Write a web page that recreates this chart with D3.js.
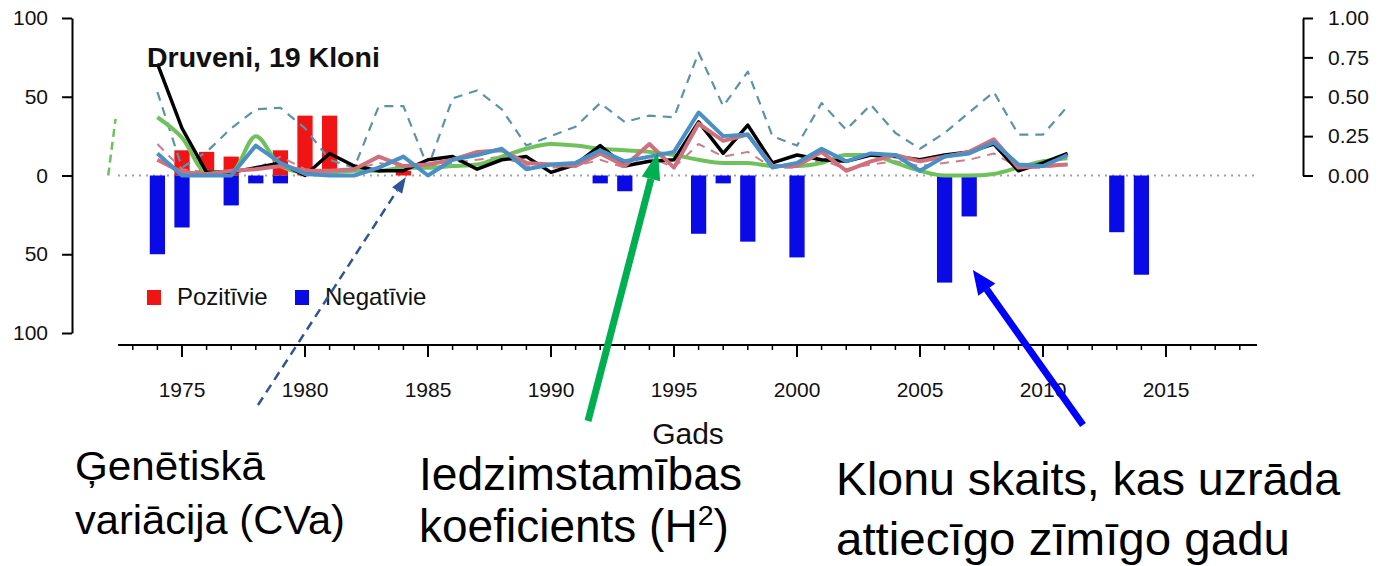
<!DOCTYPE html>
<html>
<head>
<meta charset="utf-8">
<script src="https://cdn.jsdelivr.net/npm/d3@7"></script>
<style>
  body { margin: 0; background: #fff; }
  svg { display: block; font-family: "Liberation Sans", Arial, sans-serif; }
</style>
</head>
<body>
<div id="chart"></div>
<script>
// values
const lineYears = [1974,1975,1976,1977,1978,1979,1980,1981,1982,1983,1984,1985,1986,1987,1988,1989,1990,1991,1992,
  1993,1994,1995,1996,1997,1998,1999,2000,2001,2002,2003,2004,2005,2006,2007,2008,2009,2010,2011];

const blackLine = [.71,.30,.02,.02,.05,.08,.00,.14,.06,.03,.03,.10,.12,.04,.10,.12,.02,.07,.19,
  .06,.09,.10,.34,.14,.32,.08,.13,.10,.09,.13,.12,.10,.13,.15,.20,.03,.08,.14];
const roseLine = [.10,.02,.01,.03,.04,.06,.03,.03,.04,.12,.06,.07,.10,.15,.16,.08,.07,.06,.14,
  .06,.20,.05,.33,.22,.26,.06,.06,.15,.03,.09,.13,.09,.12,.15,.23,.05,.06,.07];
const blueLine = [.14,.00,.00,.00,.19,.08,.01,.00,.00,.05,.12,.00,.10,.13,.17,.04,.07,.08,.16,
  .09,.12,.15,.40,.25,.26,.05,.08,.17,.09,.14,.13,.03,.12,.14,.21,.07,.06,.13];
const greenLine = [.37,.24,.02,.02,.25,.06,.02,.02,.03,.03,.05,.05,.06,.07,.12,.17,.20,.19,.17,
  .16,.15,.13,.10,.08,.08,.06,.06,.08,.13,.13,.08,.03,.00,.00,.01,.05,.09,.11];
const tealDash = [.53,.05,.15,.30,.42,.43,.30,.10,.05,.44,.44,.05,.49,.54,.42,.19,.25,.31,.46,
  .34,.38,.37,.78,.44,.66,.25,.19,.46,.29,.45,.27,.17,.27,.40,.53,.26,.26,.44];
const pinkDash = [.20,.04,.02,.03,.04,.12,.04,.03,.04,.08,.05,.06,.08,.10,.12,.06,.05,.06,.10,
  .05,.12,.05,.20,.12,.15,.05,.05,.10,.04,.07,.09,.06,.08,.10,.14,.05,.05,.07];
const greenDashYears = [1972.0, 1972.3];
const greenDashVals = [0, .36];

const posYears = [1975,1976,1977,1979,1980,1981,1984];
const posCounts = [16,15,12,16,38,38,3];
const negYears = [1974,1975,1977,1978,1979,1992,1993,1996,1997,1998,2000,2006,2007,2013,2014];
const negCounts = [-50,-33,-19,-5,-5,-5,-10,-37,-5,-42,-52,-68,-26,-36,-63];

const leftTicks = [-100,-50,0,50,100];
const rightTicks = [0,0.25,0.5,0.75,1];
const majorYears = [1975,1980,1985,1990,1995,2000,2005,2010,2015];
const minorYears = d3.range(1973, 2019);

const width = 1388, height = 566;

const svg = d3.select("#chart")
  .append("svg")
    .attr("width", width)
    .attr("height", height);

svg.append("rect").attr("width", width).attr("height", height).attr("fill", "#fff");

// scales
const x = d3.scaleLinear().domain([1975, 2015]).range([182, 1166]);
const yL = d3.scaleLinear().domain([-100, 100]).range([333, 18]);
const yR = d3.scaleLinear().domain([0, 1]).range([175.5, 18]);
const bw = (x(1976) - x(1975)) * 0.62;

// zero reference line
svg.append("line")
  .attr("x1", x(1972.4)).attr("x2", x(2018.7))
  .attr("y1", yL(0)).attr("y2", yL(0))
  .attr("stroke", "#a0a0a0").attr("stroke-width", 2)
  .attr("stroke-dasharray", "2,5");

// bars
svg.selectAll(".pos")
  .data(posYears)
  .join("rect")
    .attr("class", "pos")
    .attr("x", d => x(d) - bw / 2)
    .attr("width", bw)
    .attr("y", (d, i) => yL(posCounts[i]))
    .attr("height", (d, i) => yL(0) - yL(posCounts[i]))
    .attr("fill", "#f01414");

svg.selectAll(".neg")
  .data(negYears)
  .join("rect")
    .attr("class", "neg")
    .attr("x", d => x(d) - bw / 2)
    .attr("width", bw)
    .attr("y", yL(0))
    .attr("height", (d, i) => yL(negCounts[i]) - yL(0))
    .attr("fill", "#0a0ae6");

// lines
const line = d3.line()
  .x((d, i) => x(lineYears[i]))
  .y(d => yR(d));

const series = [
  {vals: tealDash, color: "#5a93aa", w: 2.2, dash: "9,7", curve: d3.curveLinear},
  {vals: pinkDash, color: "#cc7d8c", w: 2, dash: "9,7", curve: d3.curveLinear},
  {vals: greenLine, color: "#6fc15c", w: 4, dash: null, curve: d3.curveMonotoneX},
  {vals: blackLine, color: "#000000", w: 3.5, dash: null, curve: d3.curveLinear},
  {vals: roseLine, color: "#d0707c", w: 4, dash: null, curve: d3.curveLinear},
  {vals: blueLine, color: "#4a90c6", w: 4, dash: null, curve: d3.curveLinear}
];

svg.selectAll(".series")
  .data(series)
  .join("path")
    .attr("class", "series")
    .attr("fill", "none")
    .attr("stroke", d => d.color)
    .attr("stroke-width", d => d.w)
    .attr("stroke-linejoin", "round")
    .attr("stroke-dasharray", d => d.dash)
    .attr("d", d => line.curve(d.curve)(d.vals));

svg.append("path")
  .attr("fill", "none")
  .attr("stroke", "#6fc15c")
  .attr("stroke-width", 2.5)
  .attr("stroke-dasharray", "8,5")
  .attr("d", d3.line().x((d, i) => x(greenDashYears[i])).y(d => yR(d))(greenDashVals));

// axes
const leftAxis = svg.append("g")
  .attr("transform", "translate(72,0)")
  .call(d3.axisLeft(yL).tickValues(leftTicks).tickFormat(d => Math.abs(d))
    .tickSize(10).tickSizeOuter(0).tickPadding(14));

const rightAxis = svg.append("g")
  .attr("transform", "translate(1303,0)")
  .call(d3.axisRight(yR).tickValues(rightTicks).tickFormat(d3.format(".2f"))
    .tickSize(10).tickSizeOuter(0).tickPadding(15));

const xAxis = svg.append("g").attr("transform", "translate(0,345)");
xAxis.append("line")
  .attr("x1", x(1972.4)).attr("x2", x(2018.7))
  .attr("stroke", "#000").attr("stroke-width", 2);
xAxis.selectAll(".minor")
  .data(minorYears)
  .join("line")
    .attr("class", "minor")
    .attr("x1", d => x(d)).attr("x2", d => x(d))
    .attr("y2", 5)
    .attr("stroke", "#000").attr("stroke-width", 1.5);
xAxis.selectAll(".major")
  .data(majorYears)
  .join("line")
    .attr("class", "major")
    .attr("x1", d => x(d)).attr("x2", d => x(d))
    .attr("y2", 12)
    .attr("stroke", "#000").attr("stroke-width", 2);
xAxis.selectAll(".lab")
  .data(majorYears)
  .join("text")
    .attr("class", "lab")
    .attr("x", d => x(d))
    .attr("y", 52)
    .attr("text-anchor", "middle")
    .attr("font-size", 21)
    .attr("fill", "#111")
    .text(d => d);

[leftAxis, rightAxis].forEach(g => {
  g.selectAll("path, line").attr("stroke", "#000").attr("stroke-width", 2);
  g.selectAll("text").attr("font-size", 21).attr("fill", "#111")
    .attr("font-family", "Liberation Sans, Arial, sans-serif");
});

svg.append("text")
  .attr("x", 688).attr("y", 444)
  .attr("text-anchor", "middle")
  .attr("font-size", 30)
  .attr("fill", "#111")
  .text("Gads");

// title
svg.append("text")
  .attr("x", 147).attr("y", 67)
  .attr("font-size", 28.5)
  .attr("font-weight", "bold")
  .attr("fill", "#111")
  .text("Druveni, 19 Kloni");

// legend
const legend = [
  {label: "Pozitīvie", color: "#f01414", x: 147},
  {label: "Negatīvie", color: "#0a0ae6", x: 295}
];
const lg = svg.selectAll(".legend")
  .data(legend)
  .join("g")
    .attr("class", "legend")
    .attr("transform", d => `translate(${d.x},290)`);
lg.append("rect").attr("width", 14).attr("height", 15).attr("fill", d => d.color);
lg.append("text")
  .attr("x", 30).attr("y", 15)
  .attr("font-size", 24)
  .attr("fill", "#111")
  .text(d => d.label);

// annotation arrows
function arrow(x1, y1, x2, y2, color, w, headLen, headW, dash) {
  const a = Math.atan2(y2 - y1, x2 - x1);
  const bx = x2 - headLen * Math.cos(a), by = y2 - headLen * Math.sin(a);
  svg.append("line")
    .attr("x1", x1).attr("y1", y1).attr("x2", bx).attr("y2", by)
    .attr("stroke", color).attr("stroke-width", w)
    .attr("stroke-dasharray", dash);
  const px = -Math.sin(a) * headW / 2, py = Math.cos(a) * headW / 2;
  svg.append("polygon")
    .attr("points", `${x2},${y2} ${bx + px},${by + py} ${bx - px},${by - py}`)
    .attr("fill", color);
}

arrow(258, 405, x(1984.1), yL(-1), "#2f5597", 2.5, 16, 12, "9,6");
arrow(588, 421, x(1994.35), yR(0.15), "#00b050", 7, 28, 19, null);
arrow(1083, 425, x(2007.15), yL(-60), "#0000ff", 7, 24, 21, null);

// notes under the chart
const notes = [
  {x: 75, y: 480, size: 41, lines: ["Ģenētiskā", "variācija (CVa)"], lens: [190, 270], gap: 54},
  {x: 419, y: 490, size: 46, lines: ["Iedzimstamības", "koeficients (H"], lens: [323, null], gap: 52, sup: true},
  {x: 836, y: 495, size: 46, lines: ["Klonu skaits, kas uzrāda", "attiecīgo zīmīgo gadu"], lens: [504, 454], gap: 60}
];
notes.forEach(n => {
  n.lines.forEach((t, i) => {
    const tx = svg.append("text")
      .attr("x", n.x).attr("y", n.y + i * n.gap)
      .attr("font-size", n.size)
      .attr("fill", "#000")
      .text(t);
    if (n.lens[i]) tx.attr("textLength", n.lens[i]).attr("lengthAdjust", "spacingAndGlyphs");
    if (n.sup && i === 1) {
      tx.append("tspan").attr("font-size", n.size * 0.62).attr("dy", -n.size * 0.36).text("2");
      tx.append("tspan").attr("dy", n.size * 0.36).text(")");
    }
  });
});
</script>
</body>
</html>
